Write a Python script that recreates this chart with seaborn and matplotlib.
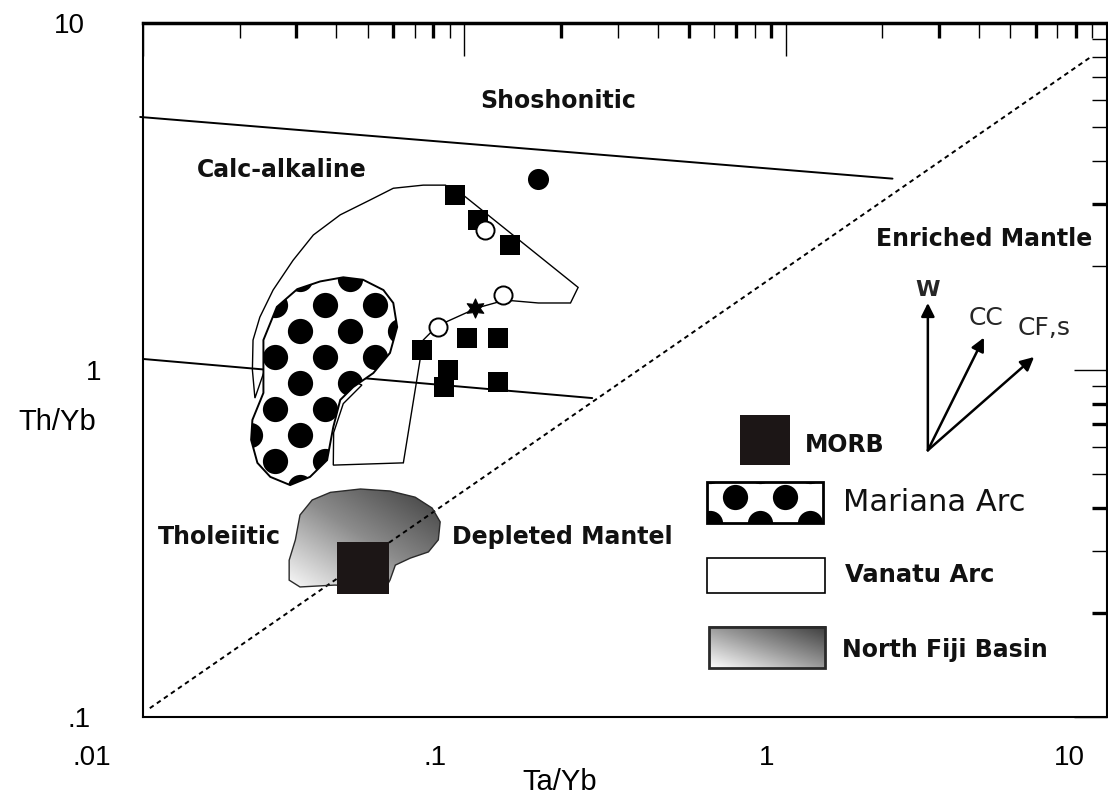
import numpy as np
import pandas as pd
import matplotlib
matplotlib.use("Agg")
import matplotlib.pyplot as plt
from matplotlib.patches import Polygon, Rectangle
from matplotlib.transforms import ScaledTranslation
from matplotlib.ticker import FixedLocator, NullFormatter
from matplotlib.colors import LinearSegmentedColormap
import seaborn as sns

# ---------------- data (Ta/Yb, Th/Yb) ----------------
# field boundaries
shosh_ta = [0.0098, 2.15]
shosh_th = [5.36, 3.56]
thol_ta = [0.01, 0.25]
thol_th = [1.076, 0.83]
mantle_ta = [0.0105, 8.9]
mantle_th = [0.106, 7.98]

# Vanatu Arc field
vanatu_ta = [0.0391, 0.0646, 0.0745, 0.0824, 0.1096, 0.134, 0.170, 0.214, 0.226,
             0.0993, 0.0873, 0.0745, 0.0601, 0.0509, 0.0411, 0.0339, 0.0293,
             0.0254, 0.0231, 0.0220, 0.0219, 0.0223, 0.0240, 0.0383, 0.0480,
             0.0420, 0.0392]
vanatu_th = [0.532, 0.540, 1.22, 1.34, 1.51, 1.59, 1.56, 1.56, 1.73,
             3.19, 3.41, 3.41, 3.34, 3.09, 2.80, 2.45, 2.07,
             1.70, 1.42, 1.22, 1.00, 0.83, 1.01, 0.99, 0.905,
             0.800, 0.660]

# Mariana Arc field
mariana_ta = [0.0420, 0.0356, 0.0302, 0.0261, 0.0237, 0.0237, 0.0237, 0.0219,
              0.0217, 0.0227, 0.0249, 0.0287, 0.0331, 0.0374, 0.0391, 0.0411,
              0.0451, 0.0521, 0.0587, 0.0618, 0.0601, 0.0560, 0.0484]
mariana_th = [1.85, 1.80, 1.71, 1.52, 1.22, 1.05, 0.859, 0.718,
              0.629, 0.540, 0.492, 0.466, 0.492, 0.550, 0.685, 0.820,
              0.893, 0.98, 1.12, 1.33, 1.56, 1.70, 1.82]

# North Fiji Basin field
fiji_ta = [0.0308, 0.0336, 0.0383, 0.0475, 0.0587, 0.0703, 0.0794, 0.0841, 0.0830,
           0.0773, 0.0679, 0.0610, 0.0587, 0.0568, 0.0396, 0.0308, 0.0285, 0.0285,
           0.0298]
fiji_th = [0.382, 0.422, 0.444, 0.454, 0.448, 0.430, 0.400, 0.365, 0.324,
           0.299, 0.287, 0.274, 0.248, 0.235, 0.240, 0.237, 0.248, 0.283,
           0.324]

# MORB
morb_ta = [0.0484]
morb_th = [0.268]

# samples
sq_ta = [0.0938, 0.1106, 0.139, 0.0740, 0.102, 0.127, 0.0891, 0.0867, 0.127]
sq_th = [3.19, 2.70, 2.29, 1.14, 1.24, 1.24, 1.00, 0.893, 0.924]
dot_ta = [0.169]
dot_th = [3.55]
open_ta = [0.116, 0.132, 0.083]
open_th = [2.53, 1.64, 1.33]
star_ta = [0.108]
star_th = [1.51]

# enrichment vectors: origin and tips
vec_origin = (2.77, 0.587)
vec_names = ["W", "CC", "CF,s"]
vec_tip_ta = [2.77, 4.14, 5.93]
vec_tip_th = [1.56, 1.24, 1.09]

x_ticks = [0.01, 0.1, 1, 10]
x_ticklabels = [".01", ".1", "1", "10"]
y_ticks = [0.1, 1, 10]
y_ticklabels = [".1", "1", "10"]

# ---------------- figure ----------------
sns.set_theme(style="white")
plt.rcParams["font.family"] = ["DejaVu Sans"]

fig = plt.figure(figsize=(11.08, 8.0), dpi=100)
ax = fig.add_axes([143 / 1108, 83 / 800, 964 / 1108, 694 / 800])
ax.set_xscale("log")
ax.set_yscale("log")
ax.set_xlim(0.01, 10)
ax.set_ylim(0.1, 10)
ax.set_facecolor("white")

# boundary lines
sns.lineplot(x=shosh_ta, y=shosh_th, color="black", lw=1.4, sort=False,
             estimator=None, ax=ax, zorder=3, clip_on=False)
sns.lineplot(x=thol_ta, y=thol_th, color="black", lw=1.4, sort=False,
             estimator=None, ax=ax, zorder=3)
sns.lineplot(x=mantle_ta, y=mantle_th, color="black", lw=1.4, sort=False,
             estimator=None, ax=ax, zorder=3, linestyle=(0, (2.4, 2.0)))

# Vanatu Arc outline
ax.add_patch(Polygon(np.column_stack([vanatu_ta, vanatu_th]), closed=True,
                     fill=False, ec="black", lw=1.0, zorder=3))

# Mariana Arc field with dot fill
mariana = Polygon(np.column_stack([mariana_ta, mariana_th]), closed=True,
                  fc="white", ec="black", lw=1.4, zorder=4)
ax.add_patch(mariana)
gx, gy = [], []
for k in range(9):
    for j in range(-1, 5):
        gx.append(0.1110 + 0.05187 * j + 0.025935 * (k % 2))
        gy.append(0.6311 - 0.03746 * k)
dots = ax.scatter(gx, gy, s=330, color="black", lw=0, transform=ax.transAxes,
                  zorder=4.5)
dots.set_clip_path(mariana)

# North Fiji Basin field with gradient fill
fiji_cmap = LinearSegmentedColormap.from_list("fiji", ["#fafafa", "#8c8c8c", "#3c3c3c"])
fiji = Polygon(np.column_stack([fiji_ta, fiji_th]), closed=True,
               fill=False, ec="#2a2a2a", lw=1.0, zorder=3)
ax.add_patch(fiji)
fv = ax.transAxes.inverted().transform(ax.transData.transform(np.column_stack([fiji_ta, fiji_th])))
gu, gv = np.meshgrid(np.linspace(0, 1, 200), np.linspace(0, 1, 200))
grad = ax.imshow((gu + gv) / 2, cmap=fiji_cmap, origin="lower", aspect="auto",
                 extent=[fv[:, 0].min(), fv[:, 0].max(), fv[:, 1].min(), fv[:, 1].max()],
                 transform=ax.transAxes, zorder=2.5, interpolation="bilinear")
grad.set_clip_path(fiji)
ax.set_xlim(0.01, 10)
ax.set_ylim(0.1, 10)

# MORB
sns.scatterplot(x=morb_ta, y=morb_th, marker="s", s=1450, color="#1c1616",
                linewidth=0, ax=ax, zorder=5)

# samples
sns.scatterplot(x=sq_ta, y=sq_th, marker="s", s=215, color="black",
                linewidth=0, ax=ax, zorder=6)
sns.scatterplot(x=dot_ta, y=dot_th, marker="o", s=230, color="black",
                linewidth=0, ax=ax, zorder=6)
sns.scatterplot(x=open_ta, y=open_th, marker="o", s=170, facecolor="white",
                edgecolor="black", linewidth=1.4, ax=ax, zorder=7)
sns.scatterplot(x=star_ta, y=star_th, marker=(6, 1, 0), s=190, color="black",
                edgecolor="black", linewidth=0.8, ax=ax, zorder=7)

# vectors
for tx, ty in zip(vec_tip_ta, vec_tip_th):
    ax.annotate("", xy=(tx, ty), xytext=vec_origin,
                arrowprops=dict(arrowstyle="-|>", color="black", lw=1.8,
                                mutation_scale=20, shrinkA=0, shrinkB=0),
                zorder=6)
ax.text(0.814, 0.615, vec_names[0], transform=ax.transAxes, fontsize=16,
        fontweight="bold", ha="center", va="center")
ax.text(0.8745, 0.575, vec_names[1], transform=ax.transAxes, fontsize=18,
        ha="center", va="center")
ax.text(0.9347, 0.5605, vec_names[2], transform=ax.transAxes, fontsize=18,
        ha="center", va="center")

# field labels
label_kw = dict(transform=ax.transAxes, fontsize=17, fontweight="bold",
                color="#111111", ha="center", va="center")
ax.text(0.4305, 0.8876, "Shoshonitic", **label_kw)
ax.text(0.1442, 0.788, "Calc-alkaline", **label_kw)
ax.text(0.873, 0.689, "Enriched Mantle", **label_kw)
ax.text(0.0788, 0.2594, "Tholeiitic", **label_kw)
ax.text(0.4346, 0.2594, "Depleted Mantel", **label_kw)

# key
ax.add_patch(Rectangle((0.619, 0.363), 0.0519, 0.072, transform=ax.transAxes,
                       fc="#1c1616", ec="none", zorder=5))
ax.text(0.687, 0.392, "MORB", transform=ax.transAxes, fontsize=17,
        fontweight="bold", color="#111111", ha="left", va="center")

mar_box = Rectangle((0.585, 0.2795), 0.120, 0.059, transform=ax.transAxes,
                    fc="white", ec="black", lw=2.0, zorder=5)
ax.add_patch(mar_box)
kx = [0.6141, 0.6660, 0.5882, 0.6400, 0.6919, 0.5882, 0.6400, 0.6919]
ky = [0.3170, 0.3170, 0.2795, 0.2795, 0.2795, 0.3545, 0.3545, 0.3545]
kd = ax.scatter(kx, ky, s=330, color="black", lw=0, transform=ax.transAxes, zorder=5.5)
kd.set_clip_path(mar_box)
ax.text(0.726, 0.309, "Mariana Arc", transform=ax.transAxes, fontsize=22,
        color="#111111", ha="left", va="center")

ax.add_patch(Rectangle((0.585, 0.1787), 0.1225, 0.0503, transform=ax.transAxes,
                       fc="white", ec="black", lw=1.2, zorder=5))
ax.text(0.728, 0.2046, "Vanatu Arc", transform=ax.transAxes, fontsize=17.5,
        fontweight="bold", color="#111111", ha="left", va="center")

fiji_box = Rectangle((0.587, 0.0706), 0.1205, 0.0591, transform=ax.transAxes,
                     fc="none", ec="#2a2a2a", lw=2.0, zorder=5.5)
ax.add_patch(fiji_box)
kg = ax.imshow((gu + gv) / 2, cmap=LinearSegmentedColormap.from_list(
                   "fijikey", ["#ffffff", "#9a9a9a", "#3c3c3c"]),
               origin="lower", aspect="auto",
               extent=[0.587, 0.7075, 0.0706, 0.1297],
               transform=ax.transAxes, zorder=5, interpolation="bilinear")
ax.text(0.725, 0.0965, "North Fiji Basin", transform=ax.transAxes, fontsize=17,
        fontweight="bold", color="#111111", ha="left", va="center")
ax.set_xlim(0.01, 10)
ax.set_ylim(0.1, 10)

# ---------------- axes, ticks ----------------
for s in ax.spines.values():
    s.set_color("black")
    s.set_linewidth(1.5)
ax.spines["top"].set_linewidth(2.5)

ax.set_xticks(x_ticks, x_ticklabels)
ax.set_yticks(y_ticks, y_ticklabels)
minor_x = [k * 10.0 ** e for e in (-2, -1, 0) for k in range(2, 10)]
minor_y = [k * 10.0 ** e for e in (-1, 0) for k in range(2, 10)]
ax.xaxis.set_minor_locator(FixedLocator(minor_x))
ax.yaxis.set_minor_locator(FixedLocator(minor_y))
ax.xaxis.set_minor_formatter(NullFormatter())
ax.yaxis.set_minor_formatter(NullFormatter())

ax.tick_params(which="both", direction="in", top=True, right=True,
               color="black", labelcolor="black")
ax.tick_params(which="major", length=24, width=1.0)
ax.tick_params(which="minor", length=11, width=1.0)
ax.tick_params(axis="x", which="major", pad=20, labelsize=20)
ax.tick_params(axis="y", which="major", pad=36, labelsize=20)
for lbl in ax.get_xticklabels() + ax.get_yticklabels():
    lbl.set_fontfamily("Liberation Sans")

heavy_x = [0.03, 0.06, 0.08, 0.2, 0.5, 0.7, 0.9, 3, 6, 8]
heavy_y = [3, 0.8, 0.7, 0.4, 0.2]
for tick, loc in zip(ax.xaxis.get_minor_ticks(len(minor_x)), minor_x):
    if np.any(np.isclose(loc, heavy_x)):
        tick.tick1line.set_markeredgewidth(2.4)
        tick.tick2line.set_markeredgewidth(2.4)
for tick, loc in zip(ax.yaxis.get_minor_ticks(len(minor_y)), minor_y):
    if np.any(np.isclose(loc, heavy_y)):
        tick.tick1line.set_markeredgewidth(2.4)
        tick.tick2line.set_markeredgewidth(2.4)

x_shift = [-37, -21, -14, -27]
for lbl, dx in zip(ax.get_xticklabels(), x_shift):
    lbl.set_transform(lbl.get_transform() + ScaledTranslation(dx / 72, 0, fig.dpi_scale_trans))
y_shift = [-2, 6, -6]
for lbl, dx in zip(ax.get_yticklabels(), y_shift):
    lbl.set_transform(lbl.get_transform() + ScaledTranslation(dx / 72, 0, fig.dpi_scale_trans))

ax.set_xlabel("Ta/Yb", fontsize=21, family="Liberation Sans", color="black")
ax.xaxis.set_label_coords(0.4326, -0.073)
ax.set_ylabel("Th/Yb", fontsize=21, family="Liberation Sans", color="black",
              rotation=0, ha="center", va="center")
ax.yaxis.set_label_coords(-0.0892, 0.425)

fig.savefig("out.png", dpi=100, facecolor="white")
